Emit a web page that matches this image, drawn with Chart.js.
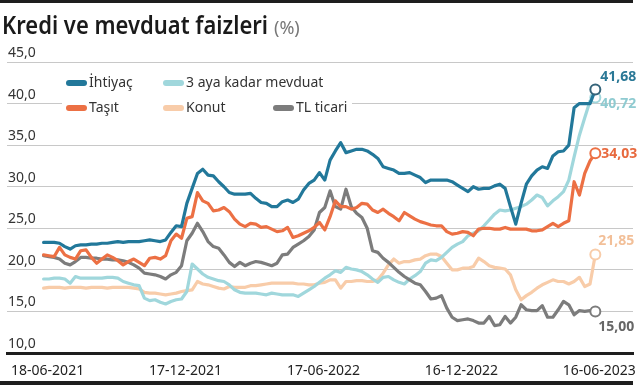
<!DOCTYPE html>
<html>
<head>
<meta charset="utf-8">
<script src="https://cdn.jsdelivr.net/npm/chart.js@4.4.0/dist/chart.umd.min.js"></script>
<style>
  html,body{margin:0;padding:0;background:#fff}
  canvas{display:block}
</style>
</head>
<body>
<canvas id="chart" width="640" height="389"></canvas>
<script>
const FONT = '"Noto Sans", "Open Sans", sans-serif';

const titleText = 'Kredi ve mevduat faizleri';
const titleUnit = '(%)';

// weekly points, index 0 = 18-06-2021 ... 104 = 16-06-2023
const xTicks = [0, 26, 52, 78, 104];
const xTickLabels = ['18-06-2021', '17-12-2021', '17-06-2022', '16-12-2022', '16-06-2023'];
const yTicks = [10, 15, 20, 25, 30, 35, 40, 45];
const yTickLabels = ['10,0', '15,0', '20,0', '25,0', '30,0', '35,0', '40,0', '45,0'];

const seriesNames = ['İhtiyaç', '3 aya kadar mevduat', 'Taşıt', 'Konut', 'TL ticari'];
const seriesColors = ['#22789a', '#a0d7dc', '#ec7044', '#f8cca9', '#7c7c7c'];
const labelColors = ['#2a7896', '#8fcbd1', '#e8693e', '#f2bf98', '#666666'];

const ihtiyac = [
  23.3,23.3,23.3,23.2,22.8,22.5,22.9,23.0,23.0,23.1,
  23.1,23.2,23.2,23.3,23.4,23.3,23.4,23.4,23.4,23.5,
  23.6,23.5,23.4,23.6,24.5,25.3,25.2,28.0,29.8,31.6,
  32.1,31.4,31.3,30.6,30.0,29.3,29.1,29.1,29.1,29.2,
  28.6,28.1,28.0,27.6,27.6,28.2,28.4,28.1,28.5,29.6,
  30.4,30.8,31.7,30.8,33.2,34.3,35.3,34.1,34.3,34.5,
  34.5,34.3,33.9,33.4,32.4,32.2,32.0,31.6,31.6,31.7,
  31.4,31.1,30.5,30.8,30.8,30.8,30.8,30.6,30.2,29.8,
  29.4,30.0,29.7,29.8,29.8,30.1,30.3,29.8,27.6,25.5,
  28.0,30.3,31.3,32.0,32.4,32.2,33.7,34.2,34.3,35.0,
  39.5,40.0,40.0,40.0,41.68
];
const mevduat = [
  18.9,18.9,19.0,19.0,18.9,18.4,19.2,19.0,19.0,19.0,
  19.0,19.0,19.1,19.1,19.0,18.6,18.4,18.2,18.1,16.6,
  16.3,16.4,16.1,15.9,16.2,16.4,16.5,17.4,20.7,20.1,
  19.5,19.1,18.9,18.7,18.6,18.2,17.6,17.3,17.2,17.2,
  17.2,17.1,17.0,17.2,17.1,17.0,17.0,17.0,16.8,17.2,
  17.6,18.0,18.5,19.0,19.4,19.9,19.7,20.3,20.1,20.0,
  19.8,19.4,18.9,18.5,19.1,19.2,18.8,18.5,18.3,18.9,
  19.3,19.8,20.8,21.2,21.1,21.5,22.1,22.7,23.1,23.4,
  24.1,24.4,24.7,25.3,26.0,26.7,27.2,27.1,27.2,27.4,
  27.6,27.9,28.4,29.0,28.7,27.7,28.3,28.8,29.4,30.8,
  33.6,36.2,38.3,40.3,40.72
];
const tasit = [
  21.8,21.7,21.6,22.7,21.8,21.5,21.3,22.3,22.4,21.5,
  20.8,21.3,21.8,21.5,21.1,20.6,21.0,21.3,20.9,20.5,
  21.4,21.5,21.3,21.7,23.5,24.3,23.8,26.2,26.4,29.3,
  28.3,28.0,27.1,27.2,27.5,27.0,26.1,25.5,25.2,25.6,
  25.5,25.1,25.2,24.9,24.6,24.7,25.1,23.9,24.1,24.4,
  24.7,25.1,25.7,24.8,26.4,28.3,27.6,27.6,27.3,27.5,
  28.0,27.9,27.2,26.9,27.3,26.8,26.4,25.9,26.9,26.5,
  26.1,25.8,25.6,25.4,25.3,25.3,24.6,24.3,24.4,24.6,
  24.5,24.1,24.9,25.0,25.0,24.9,24.9,25.1,24.9,24.9,
  24.9,24.9,24.7,24.7,24.8,25.2,25.6,25.2,25.6,25.9,
  30.6,29.0,31.6,33.1,34.03
];
const konut = [
  17.8,17.9,17.9,17.9,17.8,17.9,17.9,17.9,17.8,17.9,
  17.9,17.9,17.8,17.9,17.9,17.9,17.9,17.8,17.7,17.3,
  17.2,17.2,17.1,17.0,17.1,17.2,17.4,17.5,17.6,18.6,
  18.3,18.2,18.0,17.8,17.7,18.0,17.9,17.9,17.9,18.1,
  18.1,18.2,18.3,18.4,18.4,18.4,18.4,18.4,18.3,18.3,
  18.2,18.2,18.4,18.5,18.8,18.8,17.8,18.6,18.6,18.7,
  18.7,18.6,18.6,18.8,19.6,20.6,21.3,20.8,21.0,21.0,
  21.2,21.3,21.7,21.9,21.9,21.6,20.8,20.0,20.0,20.2,
  20.2,20.4,21.4,21.0,20.5,20.3,20.2,20.1,19.4,17.6,
  16.4,16.9,17.3,17.8,18.2,18.5,18.8,18.6,18.6,18.3,
  18.6,19.1,18.0,18.3,21.85
];
const ticari = [
  21.7,21.6,21.5,21.3,20.8,20.6,21.0,21.5,21.5,21.4,
  21.4,21.3,21.3,21.2,21.2,21.1,20.9,20.6,20.2,19.6,
  19.5,19.4,19.2,18.9,19.4,19.7,20.5,23.5,24.4,25.6,
  24.6,23.4,22.8,22.6,21.8,20.9,20.4,20.9,20.5,20.8,
  21.0,20.9,20.7,20.5,20.8,21.8,21.9,22.7,23.1,23.5,
  24.0,24.8,26.9,27.5,29.5,27.6,27.3,29.7,27.6,26.8,
  26.3,25.0,22.3,22.1,21.4,20.9,20.3,19.7,19.2,18.8,
  18.4,18.2,17.4,16.5,16.6,16.9,15.4,14.3,13.9,14.0,
  14.1,13.9,13.6,13.6,14.4,13.3,13.4,14.4,13.6,14.3,
  15.8,15.2,15.1,15.1,15.7,14.3,14.3,15.2,16.2,15.8,
  14.6,15.1,15.0,15.1,15.00
];

const allSeries = [ihtiyac, mevduat, tasit, konut, ticari];
const drawOrder = [1, 4, 2, 5, 3];   // higher = drawn first

// legend slots [x, y] and end-label offsets [dx, dy] from the last point
const legendSlots = [[66, 83], [163, 83], [66, 108], [163, 108], [273, 108]];
const endLabelPos = [[5, -13], [5, 6], [6, 1], [3, -13], [3, 16]];

const fmt = v => v.toFixed(2).replace('.', ',');

const decor = {
  id: 'decor',
  beforeDraw(chart){
    const ctx = chart.ctx;
    ctx.save();
    ctx.fillStyle = '#fff'; ctx.fillRect(0, 0, chart.width, chart.height);
    ctx.fillStyle = '#1e1e1e';
    ctx.fillRect(0, 0, 633, 3);
    ctx.fillRect(0, 381, 633, 4);
    // title, squeezed a bit to match the condensed face
    ctx.font = '600 25px ' + FONT;
    ctx.textBaseline = 'alphabetic';
    const w = ctx.measureText(titleText).width;
    ctx.save();
    ctx.translate(2, 34); ctx.scale(266 / w, 1);
    ctx.fillStyle = '#1a1a1a'; ctx.fillText(titleText, 0, 0);
    ctx.restore();
    ctx.font = '400 18px ' + FONT;
    ctx.fillStyle = '#777';
    ctx.fillText(titleUnit, 274, 34);
    ctx.restore();
  },
  afterDraw(chart){
    const ctx = chart.ctx;
    ctx.save();
    // legend box hides the grid line behind it
    ctx.fillStyle = '#fff'; ctx.fillRect(62, 70, 290, 46);
    ctx.font = '400 14px ' + FONT;
    ctx.textBaseline = 'middle'; ctx.textAlign = 'left';
    seriesNames.forEach((name, k) => {
      const [x, y] = legendSlots[k];
      ctx.strokeStyle = seriesColors[k]; ctx.lineWidth = 6; ctx.lineCap = 'round';
      ctx.beginPath(); ctx.moveTo(x + 3, y); ctx.lineTo(x + 18, y); ctx.stroke();
      ctx.fillStyle = '#333'; ctx.fillText(name, x + 23, y);
    });
    // values at the end of each line
    ctx.font = '700 14px ' + FONT;
    allSeries.forEach((arr, k) => {
      const meta = chart.getDatasetMeta(k);
      const pt = meta.data[arr.length - 1];
      const [dx, dy] = endLabelPos[k];
      ctx.fillStyle = labelColors[k];
      ctx.fillText(fmt(arr[arr.length - 1]), pt.x + dx, pt.y + dy);
    });
    ctx.restore();
  }
};

new Chart(document.getElementById('chart'), {
  type: 'line',
  data: {
    datasets: allSeries.map((arr, k) => ({
      label: seriesNames[k],
      data: arr.map((v, i) => ({x: i, y: v})),
      borderColor: seriesColors[k],
      borderWidth: 3.2,
      borderJoinStyle: 'round',
      borderCapStyle: 'round',
      tension: 0,
      pointRadius: c => c.dataIndex === arr.length - 1 ? 5 : 0,
      pointHoverRadius: 0,
      pointBackgroundColor: '#fff',
      pointBorderColor: k === 0 ? '#35647a' : seriesColors[k],
      pointBorderWidth: 2,
      order: drawOrder[k],
      clip: false
    }))
  },
  options: {
    responsive: false,
    animation: false,
    devicePixelRatio: 1,
    layout: {padding: {top: 62, right: 7, left: 0, bottom: 0}},
    plugins: {legend: {display: false}, tooltip: {enabled: false}},
    events: [],
    scales: {
      x: {
        type: 'linear', min: -6.9, max: 111.1,
        afterBuildTicks: s => { s.ticks = xTicks.map(v => ({value: v})); },
        afterFit: s => { s.height = 36; },
        grid: {display: false},
        border: {display: true, color: '#1e1e1e', width: 3},
        ticks: {
          autoSkip: false, maxRotation: 0, padding: 2, labelOffset: 4, color: '#222',
          font: {family: FONT, size: 14},
          callback: v => xTickLabels[xTicks.indexOf(v)] ?? ''
        }
      },
      y: {
        min: 10, max: 45,
        afterBuildTicks: s => { s.ticks = yTicks.map(v => ({value: v})); },
        afterFit: s => { s.width = 0; },
        grid: {
          color: c => (c.tick && c.tick.value === 10) ? 'rgba(0,0,0,0)' : '#c8c8c8',
          lineWidth: 1, drawTicks: false
        },
        border: {display: false},
        ticks: {
          mirror: true, padding: 1, labelOffset: -9, color: '#333',
          font: {family: FONT, size: 14},
          callback: v => yTickLabels[yTicks.indexOf(v)]
        }
      }
    }
  },
  plugins: [decor]
});
</script>
</body>
</html>
